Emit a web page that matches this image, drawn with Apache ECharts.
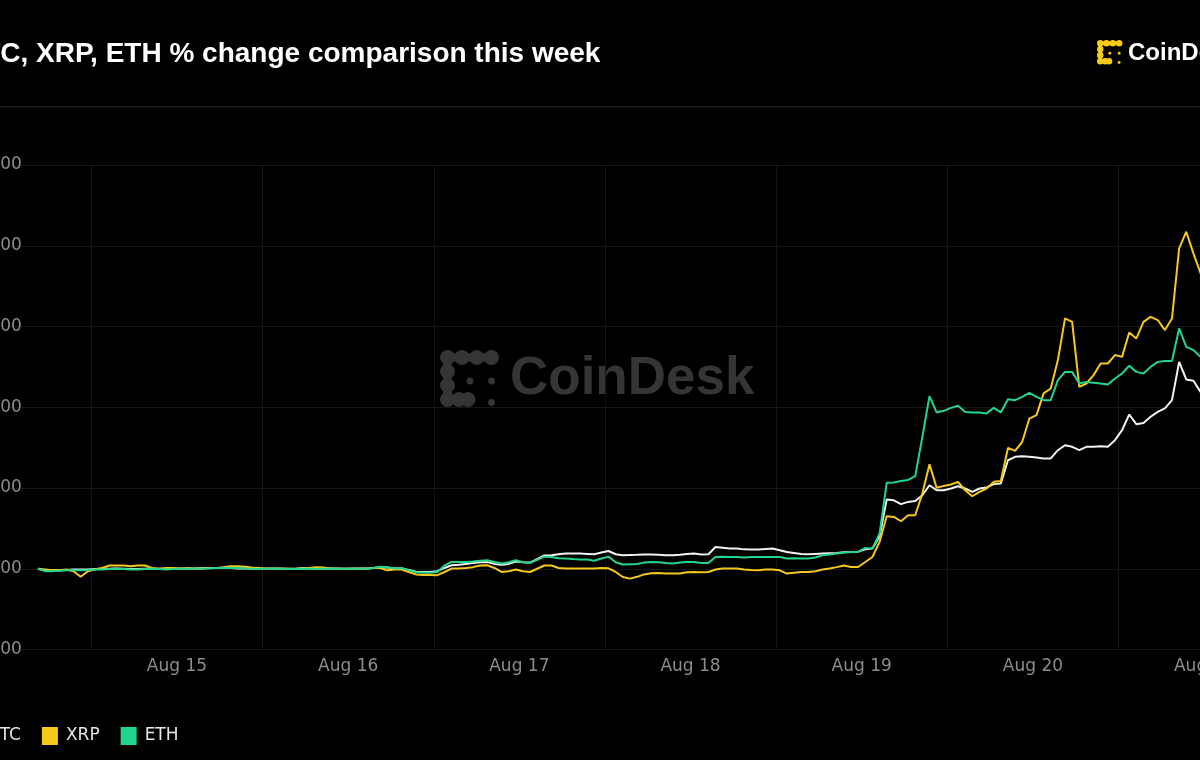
<!DOCTYPE html>
<html>
<head>
<meta charset="utf-8">
<script src="https://cdn.jsdelivr.net/npm/echarts@6/dist/echarts.min.js"></script>
<style>
  html, body { margin:0; padding:0; background:#000; width:1200px; height:760px; overflow:hidden; }
  #chart { position:absolute; left:-60px; top:0; width:1320px; height:760px; }
</style>
</head>
<body>
<div id="chart"></div>
<script>
// ---- data ----
const titleText = 'BTC, XRP, ETH % change comparison this week';
const seriesNames = ['BTC', 'XRP', 'ETH'];
const seriesColors = ['#f2f2f2', '#f5c81c', '#22d58e'];
// x values: hours since Aug 14 12:00, hourly samples starting at 16:30
const firstHour = 4.5;
// tick labels on noon of each day (every 24h from Aug 14 12:00)
const dayLabels = ['Aug 14', 'Aug 15', 'Aug 16', 'Aug 17', 'Aug 18', 'Aug 19', 'Aug 20', 'Aug 21'];
const yTickValues = [-5, 0, 5, 10, 15, 20, 25];

const btcA = [0, -0.1, -0.1, -0.1, -0.08, -0.05, -0.05, -0.05, -0.02, 0,
  0, 0.02, 0, -0.02, -0.02, 0, 0, 0, -0.02, 0,
  0.02, 0.02, 0.02, 0.05, 0.05, 0.05, 0.05, 0.05, 0.02, 0.02,
  0, 0, 0.02, 0.02, 0, 0, 0, 0.02, 0.02, 0,
  0, 0.02, 0.02, 0, 0.02, 0.02, 0.02, 0.05, 0.1, 0.08,
  0.02, 0.02, -0.08, -0.18, -0.2, -0.2];
const btcB = [-0.15, 0.05, 0.22, 0.25, 0.3, 0.35, 0.4, 0.42, 0.3, 0.25,
  0.3, 0.45, 0.4, 0.38, 0.6, 0.82, 0.84, 0.9, 0.94, 0.94,
  0.94, 0.92, 0.9, 1.0, 1.1, 0.9, 0.84, 0.85, 0.86, 0.88,
  0.88, 0.86, 0.84, 0.84, 0.86, 0.92, 0.94, 0.88, 0.9, 1.35,
  1.3, 1.25, 1.25, 1.2, 1.19, 1.19, 1.22, 1.25, 1.15, 1.04,
  0.98, 0.92, 0.9, 0.92, 0.94, 0.96, 0.98];
const btcC = [1.02, 1.04, 1.06, 1.2, 1.25, 2.0, 4.29, 4.24, 4.0, 4.14,
  4.2, 4.55, 5.17, 4.86, 4.86, 4.97, 5.11, 4.97, 4.76, 4.97,
  5.03, 5.24, 5.28, 6.72, 6.93, 6.97, 6.93, 6.89, 6.83, 6.83,
  7.34, 7.65, 7.55, 7.34, 7.55, 7.55, 7.59, 7.55, 7.96, 8.58,
  9.55, 8.95, 9.03, 9.41, 9.71, 9.93, 10.44, 12.81, 11.72, 11.64,
  10.95, 10.8, 10.7, 10.8, 10.9];

const xrpA = [0, -0.05, -0.1, -0.1, -0.05, -0.15, -0.5, -0.15, -0.05, 0.05,
  0.2, 0.2, 0.2, 0.15, 0.2, 0.2, 0.05, 0, 0.05, 0.05,
  0, 0.05, 0, 0, 0.05, 0.05, 0.1, 0.15, 0.15, 0.12,
  0.08, 0.05, 0, 0, 0.02, 0, -0.02, 0.05, 0.05, 0.1,
  0.08, 0.02, 0, 0, -0.02, 0, 0, 0.05, 0.05, -0.1,
  -0.05, -0.05, -0.2, -0.35, -0.38, -0.38];
const xrpB = [-0.4, -0.2, 0.01, 0.01, 0.05, 0.1, 0.2, 0.22, 0.05, -0.2,
  -0.15, -0.05, -0.15, -0.2, 0, 0.2, 0.2, 0.05, 0.01, 0.01,
  0.02, 0.01, 0.01, 0.05, 0.03, -0.2, -0.51, -0.61, -0.5, -0.35,
  -0.28, -0.26, -0.3, -0.3, -0.3, -0.22, -0.2, -0.22, -0.2, -0.05,
  0.01, 0.01, 0.01, -0.05, -0.08, -0.1, -0.05, -0.05, -0.1, -0.3,
  -0.25, -0.2, -0.2, -0.15, -0.05, 0.01, 0.1];
const xrpC = [0.2, 0.11, 0.11, 0.42, 0.73, 1.66, 3.25, 3.21, 2.94, 3.31,
  3.31, 4.66, 6.47, 5.01, 5.13, 5.22, 5.38, 4.86, 4.49, 4.76,
  4.97, 5.38, 5.44, 7.48, 7.3, 7.86, 9.3, 9.51, 10.86, 11.16,
  12.92, 15.5, 15.29, 11.26, 11.47, 11.99, 12.71, 12.71, 13.23, 13.12,
  14.63, 14.26, 15.29, 15.6, 15.4, 14.78, 15.5, 19.84, 20.87, 19.53,
  18.3, 17.0, 16.5, 16.6, 16.7];

const ethA = [0, -0.15, -0.15, -0.12, -0.1, -0.1, -0.1, -0.08, -0.05, -0.05,
  -0.02, 0, -0.02, -0.05, -0.05, -0.02, 0, -0.02, -0.05, -0.02,
  0, 0, 0.02, 0.02, 0.02, 0.05, 0.05, 0.05, 0.05, 0.02,
  0, -0.02, 0, 0.02, 0, -0.02, -0.02, 0, 0, -0.02,
  0, 0, 0, 0, 0, 0, 0.02, 0.05, 0.12, 0.1,
  0.02, 0.05, -0.1, -0.22, -0.25, -0.25];
const ethB = [-0.2, 0.2, 0.42, 0.42, 0.42, 0.45, 0.5, 0.53, 0.42, 0.32,
  0.4, 0.53, 0.4, 0.36, 0.55, 0.75, 0.73, 0.65, 0.63, 0.6,
  0.58, 0.57, 0.5, 0.63, 0.75, 0.4, 0.26, 0.28, 0.3, 0.38,
  0.42, 0.4, 0.35, 0.32, 0.38, 0.42, 0.42, 0.35, 0.35, 0.73,
  0.75, 0.73, 0.73, 0.7, 0.73, 0.73, 0.73, 0.73, 0.73, 0.63,
  0.65, 0.63, 0.63, 0.7, 0.84, 0.88, 0.95];
const ethC = [1.0, 1.04, 1.04, 1.29, 1.25, 2.18, 5.32, 5.34, 5.44, 5.5,
  5.73, 8.17, 10.69, 9.68, 9.78, 9.96, 10.09, 9.71, 9.68, 9.68,
  9.62, 9.96, 9.68, 10.5, 10.44, 10.64, 10.89, 10.64, 10.44, 10.44,
  11.68, 12.19, 12.19, 11.47, 11.57, 11.51, 11.47, 11.41, 11.78, 12.09,
  12.57, 12.19, 12.09, 12.5, 12.81, 12.87, 12.87, 14.88, 13.74, 13.54,
  13.12, 12.9, 12.8, 12.9, 13.0];

const btc = btcA.concat(btcB, btcC);
const xrp = xrpA.concat(xrpB, xrpC);
const eth = ethA.concat(ethB, ethC);

// hourly x positions (time index)
const hours = btc.map((_, i) => firstHour + i);
const pairs = vals => vals.map((v, i) => [hours[i], v]);

// ---- logo shapes (decoration) ----
function logoIcon(ox, oy, s, color, z) {
  const els = [];
  const big = [[7.5,7.5],[22,7.5],[36.8,7.5],[51.5,7.5],[7.5,21.5],[7.5,35.5],[7.5,49.5],[19,49.5],[28,49.5]];
  big.forEach(c => els.push({ type:'circle', shape:{ cx: ox + c[0]*s, cy: oy + c[1]*s, r: 7.5*s }, style:{ fill: color }, z, silent:true }));
  const bars = [[7.5,3.2,44,8.6],[3.2,7.5,8.6,42],[7.5,45.2,20.5,8.6]];
  bars.forEach(b => els.push({ type:'rect', shape:{ x: ox + b[0]*s, y: oy + b[1]*s, width: b[2]*s, height: b[3]*s }, style:{ fill: color }, z, silent:true }));
  const dots = [[30,31],[51.5,31],[51.5,52.5]];
  dots.forEach(c => els.push({ type:'circle', shape:{ cx: ox + c[0]*s, cy: oy + c[1]*s, r: 3.4*s }, style:{ fill: color }, z, silent:true }));
  return els;
}

const chart = echarts.init(document.getElementById('chart'), null, { renderer: 'canvas' });

const labelFont = '"DejaVu Sans", "Liberation Sans", sans-serif';

const graphics = [
  { type:'rect', shape:{ x:0, y:106, width:1320, height:1.5 }, style:{ fill:'#1e1e1e' }, silent:true, z:0 },
  { type:'text', x:570, y:379, style:{ text:'CoinDesk', font:'bold 53px "Liberation Sans", Arial, sans-serif', fill:'#353535', align:'left', verticalAlign:'middle' }, silent:true, z:0 },
  { type:'text', x:1188, y:53, style:{ text:'CoinDesk', font:'bold 24px "Liberation Sans", Arial, sans-serif', fill:'#ffffff', align:'left', verticalAlign:'middle' }, silent:true, z:0 }
].concat(logoIcon(500, 350, 1, '#353535', 0), logoIcon(1157, 40, 0.43, '#f7cb16', 0));

chart.setOption({
  backgroundColor: '#000000',
  animation: false,
  title: {
    text: titleText,
    left: 23, top: 40, padding: 0,
    textStyle: { color:'#ffffff', fontSize:28, fontWeight:'bold', fontFamily:'"Liberation Sans", Arial, sans-serif' }
  },
  legend: {
    left: 24, top: 727, padding: 0,
    itemWidth: 16, itemHeight: 18, itemGap: 21,
    icon: 'rect',
    textStyle: { color:'#e6e6e6', fontSize:17, fontFamily: labelFont, padding: [2, 0, 0, 3] },
    data: seriesNames
  },
  grid: { left: 65.8, right: 13.1, top: 165, bottom: 110.5, containLabel: false, outerBoundsMode: 'none' },
  xAxis: {
    type: 'value', min: 0, max: 174, interval: 12,
    axisLine: { show:false }, axisTick: { show:false },
    splitLine: { show:true, lineStyle: { color: ['rgba(0,0,0,0)', '#151515'], width: 1 } },
    axisLabel: {
      showMinLabel: false, showMaxLabel: false,
      color:'#8c8c8c', fontSize:17, margin: 9,
      fontFamily: labelFont,
      formatter: v => (v % 24 === 0 && v > 0) ? dayLabels[v / 24] : ''
    }
  },
  yAxis: {
    type: 'value', min: yTickValues[0], max: yTickValues[yTickValues.length - 1], interval: 5,
    axisLine: { show:false }, axisTick: { show:false },
    splitLine: { show:true, lineStyle: { color:'#161616', width:1 } },
    axisLabel: {
      color:'#8c8c8c', fontSize:17, margin: -16, padding: [4, 0, 0, 0],
      fontFamily: labelFont,
      formatter: v => v.toFixed(2)
    }
  },
  graphic: graphics,
  series: [
    { name:'BTC', type:'line', data: pairs(btc), showSymbol:false, symbol:'none', lineStyle:{ width:2, color:seriesColors[0] }, itemStyle:{ color:seriesColors[0] }, z:3 },
    { name:'XRP', type:'line', data: pairs(xrp), showSymbol:false, symbol:'none', lineStyle:{ width:2, color:seriesColors[1] }, itemStyle:{ color:seriesColors[1] }, z:3 },
    { name:'ETH', type:'line', data: pairs(eth), showSymbol:false, symbol:'none', lineStyle:{ width:2, color:seriesColors[2] }, itemStyle:{ color:seriesColors[2] }, z:3 }
  ]
});
</script>
</body>
</html>
